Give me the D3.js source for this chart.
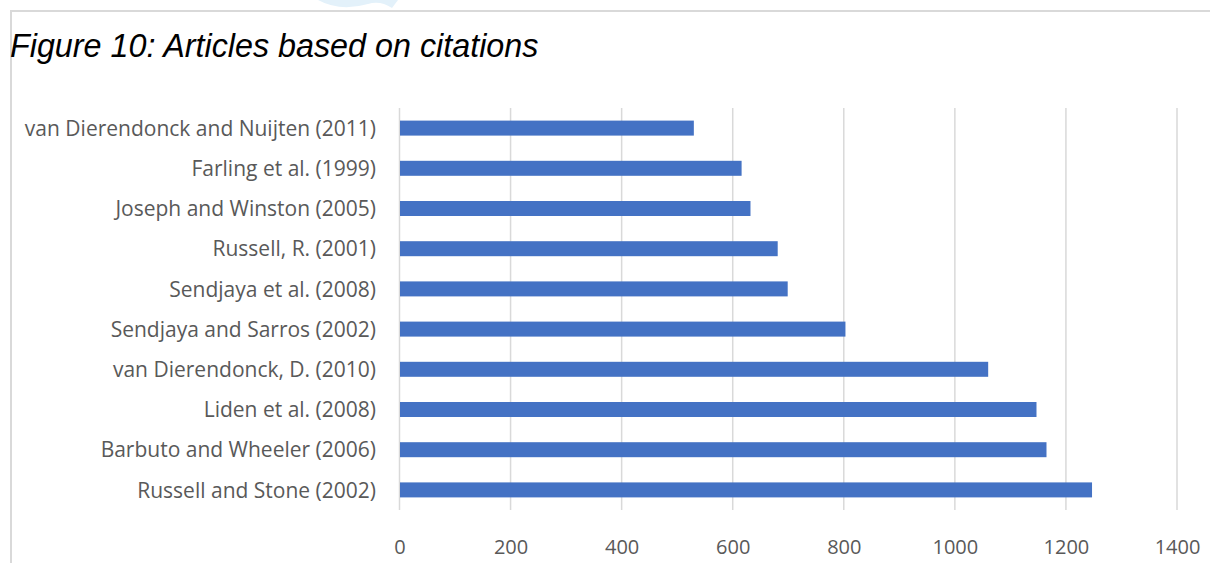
<!DOCTYPE html>
<html>
<head>
<meta charset="utf-8">
<script src="https://cdn.jsdelivr.net/npm/d3@7"></script>
<style>
  html, body { margin: 0; padding: 0; background: #fff; }
  svg { display: block; }
</style>
</head>
<body>
<script>
// citations per article, top to bottom as drawn
var articles = [
  "van Dierendonck and Nuijten (2011)",
  "Farling et al. (1999)",
  "Joseph and Winston (2005)",
  "Russell, R. (2001)",
  "Sendjaya et al. (2008)",
  "Sendjaya and Sarros (2002)",
  "van Dierendonck, D. (2010)",
  "Liden et al. (2008)",
  "Barbuto and Wheeler (2006)",
  "Russell and Stone (2002)"
];
var citations = [530, 616, 632, 681, 699, 803, 1060, 1147, 1165, 1247];
var xTicks = [0, 200, 400, 600, 800, 1000, 1200, 1400];

var W = 1210, H = 563;

var svg = d3.select("body").append("svg")
  .attr("width", W)
  .attr("height", H);

// faint watermark fragment at the top edge
svg.append("path")
  .attr("d", "M318,0 Q340,12 368,4 Q380,0 392,8 L398,0 Z")
  .attr("fill", "#e3f1fa");

// page frame
svg.append("line")
  .attr("x1", 10).attr("x2", W)
  .attr("y1", 11).attr("y2", 11)
  .attr("stroke", "#d9d9d9").attr("stroke-width", 2);
svg.append("line")
  .attr("x1", 11).attr("x2", 11)
  .attr("y1", 10).attr("y2", H)
  .attr("stroke", "#d9d9d9").attr("stroke-width", 2);

svg.append("text")
  .attr("x", 10)
  .attr("y", 57)
  .style("font-family", "'Liberation Sans', Arial, sans-serif")
  .style("font-style", "italic")
  .style("font-size", "32.3px")
  .attr("fill", "#000")
  .text("Figure 10: Articles based on citations");

var x = d3.scaleLinear().domain([0, 1400]).range([399.5, 1177]);
var y = d3.scaleBand().domain(articles).range([108, 510]).paddingInner(0.627).paddingOuter(0.3135);

var labelFont = "'Open Sans', sans-serif";

// gridlines
svg.append("g")
  .selectAll("line")
  .data(xTicks)
  .enter()
  .append("line")
    .attr("x1", function (d) { return x(d); })
    .attr("x2", function (d) { return x(d); })
    .attr("y1", 108)
    .attr("y2", 510)
    .attr("stroke", "#d9d9d9")
    .attr("stroke-width", 1.5);

// bars
svg.append("g")
  .selectAll("rect")
  .data(citations)
  .enter()
  .append("rect")
    .attr("x", x(0) + 0.5)
    .attr("y", function (d, i) { return y(articles[i]); })
    .attr("width", function (d) { return x(d) - x(0) - 0.5; })
    .attr("height", y.bandwidth())
    .attr("fill", "#4472c4");

// category labels
var yAxis = svg.append("g")
  .attr("transform", "translate(376,1)")
  .call(d3.axisLeft(y).tickSize(0).tickPadding(0));
yAxis.select(".domain").remove();
yAxis.selectAll("text")
  .style("font-family", labelFont)
  .style("font-size", "21px")
  .attr("fill", "#595959");

// value labels
var xAxis = svg.append("g")
  .attr("transform", "translate(0,540)")
  .call(d3.axisBottom(x).tickValues(xTicks).tickFormat(d3.format("d")).tickSize(0).tickPadding(0));
xAxis.select(".domain").remove();
xAxis.selectAll("text")
  .style("font-family", labelFont)
  .style("font-size", "20px")
  .attr("fill", "#595959");
</script>
</body>
</html>
